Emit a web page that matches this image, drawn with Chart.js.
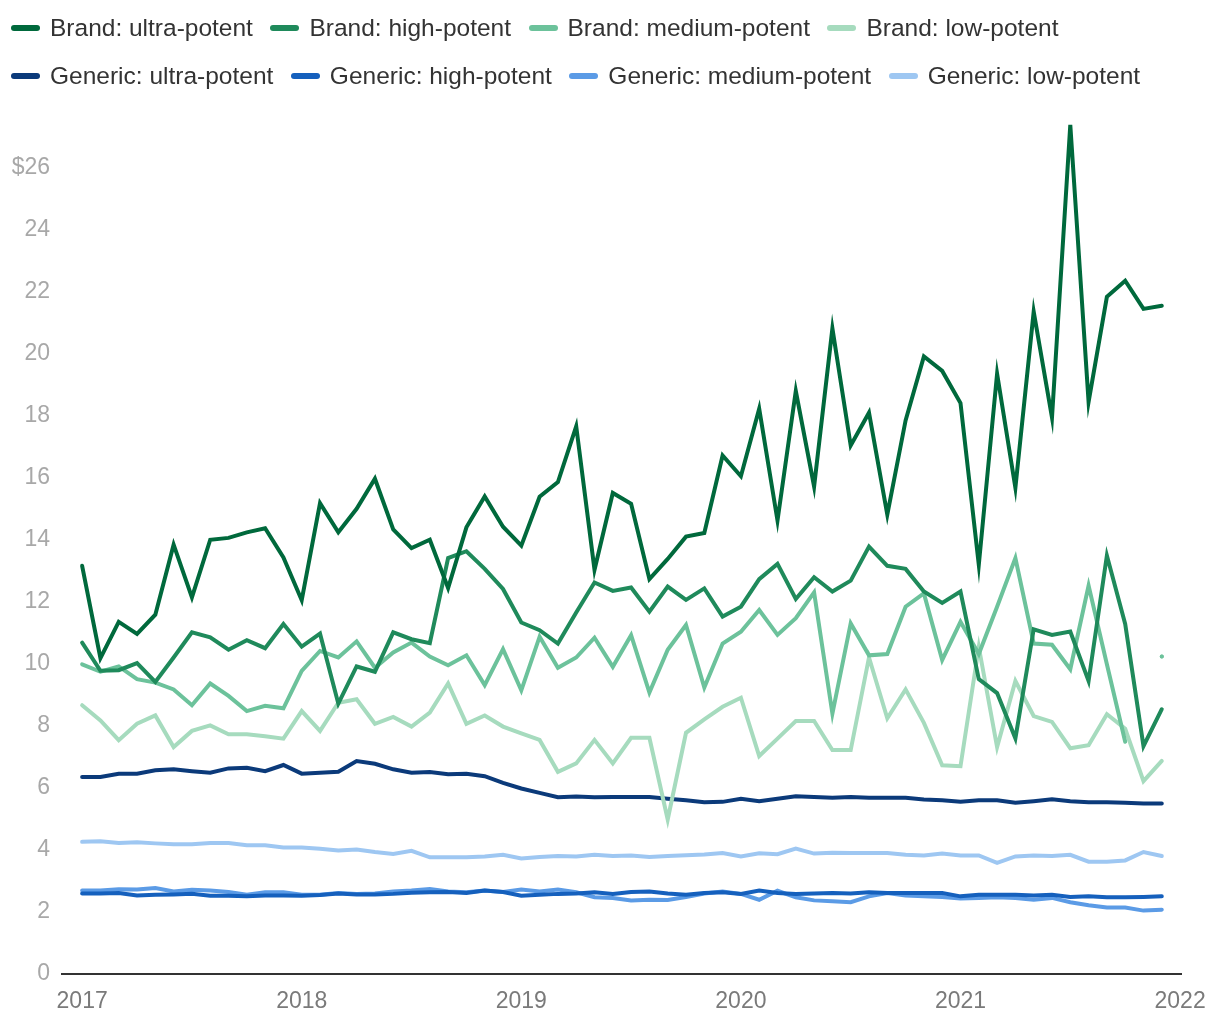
<!DOCTYPE html>
<html>
<head>
<meta charset="utf-8">
<script src="https://cdn.jsdelivr.net/npm/chart.js@4.4.1/dist/chart.umd.min.js"></script>
<style>
html,body{margin:0;padding:0;background:#fff;}
#wrap{position:relative;width:1220px;height:1020px;}
#c{position:absolute;left:0;top:0;}
#legend{position:absolute;left:11px;top:13px;font-family:"Liberation Sans",Arial,Helvetica,sans-serif;font-size:24.5px;color:#333;}
#legend .row{display:flex;height:30px;line-height:30px;margin-bottom:18px;white-space:nowrap;}
#legend .item{display:flex;align-items:center;margin-right:17.5px;}
#legend .box{width:29px;height:6px;border-radius:3px;margin-right:10px;}
</style>
</head>
<body>
<div id="wrap">
<canvas id="c" width="1220" height="1020"></canvas>
<div id="legend"></div>
</div>
<script>
// ---- data ----
const yearLabels = ['2017', '2018', '2019', '2020', '2021', '2022'];
const yearTickMonths = [0, 12, 24, 36, 48, 60];
const months = [0,1,2,3,4,5,6,7,8,9,10,11,12,13,14,15,16,17,18,19,20,21,22,23,24,25,26,27,28,29,
                30,31,32,33,34,35,36,37,38,39,40,41,42,43,44,45,46,47,48,49,50,51,52,53,54,55,56,57,58,59];

const brandUltra = [13.16,10.18,11.35,10.96,11.58,13.84,12.14,14.0,14.06,14.24,14.37,13.43,
  12.05,15.18,14.24,15.0,15.97,14.33,13.73,14.0,12.44,14.4,15.40,14.42,
  13.81,15.39,15.86,17.66,13.03,15.51,15.16,12.73,13.38,14.10,14.22,16.72,
  16.05,18.23,14.62,18.80,15.72,20.82,17.04,18.10,14.81,17.85,19.92,19.45,
  18.41,13.19,19.36,15.68,21.36,17.94,27.39,18.45,21.84,22.36,21.45,21.55];
const brandHigh = [10.68,9.77,9.79,10.02,9.41,10.20,11.01,10.85,10.45,10.76,10.50,11.28,
  10.55,10.97,8.71,9.91,9.74,11.01,10.79,10.66,13.41,13.63,13.06,12.41,
  11.33,11.08,10.65,11.65,12.62,12.35,12.46,11.68,12.49,12.06,12.43,11.52,
  11.84,12.73,13.22,12.09,12.79,12.33,12.68,13.78,13.16,13.06,12.33,11.96,
  12.33,9.50,9.05,7.59,11.11,10.93,11.04,9.44,13.49,11.28,7.34,8.53];
const brandMedium = [9.98,9.74,9.91,9.50,9.39,9.17,8.66,9.36,8.96,8.47,8.64,8.56,
  9.77,10.41,10.20,10.72,9.87,10.36,10.68,10.23,9.95,10.27,9.31,10.47,
  9.14,10.87,9.87,10.20,10.84,9.90,10.92,9.07,10.45,11.25,9.23,10.65,
  11.03,11.73,10.93,11.47,12.30,8.39,11.30,10.27,10.31,11.84,12.27,10.12,
  11.35,10.31,11.84,13.41,10.65,10.61,9.82,12.52,9.98,7.48,null,10.23];
const brandLow = [8.66,8.17,7.53,8.06,8.33,7.31,7.83,8.01,7.72,7.72,7.66,7.58,
  8.47,7.83,8.74,8.85,8.06,8.28,7.97,8.42,9.36,8.06,8.33,7.97,
  7.75,7.54,6.51,6.78,7.54,6.78,7.61,7.61,4.97,7.77,8.20,8.61,
  8.90,7.02,7.58,8.15,8.15,7.21,7.21,10.20,8.24,9.17,8.09,6.72,
  6.69,10.54,7.31,9.44,8.31,8.12,7.27,7.37,8.37,7.90,6.21,6.86];
const genericUltra = [6.34,6.34,6.45,6.45,6.56,6.59,6.53,6.48,6.62,6.64,6.53,6.73,
  6.45,6.48,6.51,6.86,6.77,6.59,6.48,6.50,6.43,6.45,6.37,6.15,
  5.97,5.83,5.69,5.71,5.69,5.70,5.70,5.70,5.64,5.59,5.53,5.54,
  5.64,5.56,5.64,5.72,5.70,5.67,5.70,5.67,5.67,5.67,5.62,5.59,
  5.54,5.59,5.59,5.51,5.56,5.62,5.56,5.53,5.53,5.51,5.49,5.49];
const genericHigh = [2.58,2.58,2.60,2.52,2.54,2.55,2.57,2.51,2.51,2.49,2.52,2.52,
  2.51,2.53,2.58,2.55,2.55,2.57,2.61,2.62,2.63,2.60,2.68,2.63,
  2.51,2.54,2.57,2.58,2.62,2.57,2.63,2.65,2.58,2.54,2.60,2.62,
  2.57,2.68,2.60,2.57,2.58,2.60,2.58,2.62,2.60,2.60,2.60,2.60,
  2.49,2.54,2.54,2.54,2.52,2.54,2.47,2.49,2.46,2.46,2.47,2.49];
const genericMedium = [2.68,2.68,2.72,2.71,2.76,2.65,2.70,2.68,2.63,2.54,2.62,2.62,
  2.54,2.54,2.60,2.57,2.58,2.65,2.68,2.73,2.65,2.62,2.68,2.63,
  2.71,2.65,2.71,2.62,2.46,2.44,2.36,2.38,2.37,2.47,2.58,2.65,
  2.57,2.38,2.67,2.46,2.36,2.33,2.30,2.49,2.60,2.52,2.49,2.47,
  2.42,2.44,2.46,2.44,2.38,2.44,2.30,2.20,2.13,2.13,2.03,2.06];
const genericLow = [4.25,4.27,4.21,4.24,4.20,4.17,4.17,4.21,4.21,4.14,4.14,4.07,
  4.07,4.03,3.97,4.00,3.92,3.86,3.96,3.75,3.75,3.75,3.78,3.83,
  3.71,3.76,3.79,3.78,3.83,3.79,3.81,3.76,3.79,3.82,3.84,3.89,
  3.78,3.88,3.85,4.03,3.87,3.90,3.89,3.89,3.89,3.83,3.81,3.87,
  3.81,3.81,3.57,3.78,3.81,3.79,3.83,3.61,3.61,3.65,3.92,3.79];

const seriesNames = ['Brand: ultra-potent','Brand: high-potent','Brand: medium-potent','Brand: low-potent',
  'Generic: ultra-potent','Generic: high-potent','Generic: medium-potent','Generic: low-potent'];
const seriesColors = ['#00693c','#1f8a5b','#6cc29b','#a6dbbe','#0b3a7a','#1560bd','#5b9be6','#9ec7f2'];
const seriesData = [brandUltra, brandHigh, brandMedium, brandLow, genericUltra, genericHigh, genericMedium, genericLow];

const FONT = '"Liberation Sans", Arial, Helvetica, sans-serif';

function isolatedRadius(ctx) {
  const d = ctx.dataset.data;
  const i = ctx.dataIndex;
  if (d[i] == null) return 0;
  const prev = i > 0 ? d[i - 1] : null;
  const next = i < d.length - 1 ? d[i + 1] : null;
  return (prev == null && next == null) ? 2 : 0;
}

const datasets = seriesNames.map((name, k) => ({
  label: name,
  data: seriesData[k],
  borderColor: seriesColors[k],
  backgroundColor: seriesColors[k],
  borderWidth: 4,
  borderCapStyle: 'round',
  pointRadius: isolatedRadius,
  pointBorderWidth: 0,
  pointHoverRadius: 0,
  tension: 0,
  fill: false,
  spanGaps: false
}));

const htmlLegend = {
  id: 'htmlLegend',
  afterUpdate(chart) {
    const el = document.getElementById('legend');
    el.innerHTML = '';
    const items = chart.options.plugins.legend.labels.generateLabels(chart);
    const perRow = 4;
    let row = null;
    items.forEach((it, i) => {
      if (i % perRow === 0) {
        row = document.createElement('div');
        row.className = 'row';
        el.appendChild(row);
      }
      const item = document.createElement('div');
      item.className = 'item';
      const box = document.createElement('span');
      box.className = 'box';
      box.style.background = it.strokeStyle;
      const txt = document.createElement('span');
      txt.textContent = it.text;
      item.appendChild(box);
      item.appendChild(txt);
      row.appendChild(item);
    });
  }
};

new Chart(document.getElementById('c'), {
  type: 'line',
  data: { labels: months, datasets },
  plugins: [htmlLegend],
  options: {
    responsive: false,
    animation: false,
    layout: { padding: { left: 0, right: 39, top: 106, bottom: 0 } },
    plugins: {
      legend: { display: false },
      tooltip: { enabled: false }
    },
    scales: {
      x: {
        type: 'linear',
        min: -1.1,
        max: 60.05,
        grid: { display: false, drawTicks: false },
        border: { display: true, color: '#333333', width: 2 },
        afterFit: (s) => { s.height = 46.5; },
        afterBuildTicks: (s) => { s.ticks = yearTickMonths.map(v => ({ value: v })); },
        ticks: {
          autoSkip: false,
          maxRotation: 0,
          padding: 14,
          color: '#7a7a7a',
          font: { family: FONT, size: 23 },
          callback: (v) => yearLabels[yearTickMonths.indexOf(v)]
        }
      },
      y: {
        min: 0,
        max: 28,
        grid: { display: false, drawTicks: false },
        border: { display: false },
        afterFit: (s) => { s.width = 62; },
        afterBuildTicks: (s) => { s.ticks = s.ticks.filter(t => t.value <= 26); },
        ticks: {
          stepSize: 2,
          padding: 12,
          color: '#a8a8a8',
          font: { family: FONT, size: 23 },
          callback: (v) => (v === 26 ? '$26' : String(v))
        }
      }
    }
  }
});
</script>
</body>
</html>
